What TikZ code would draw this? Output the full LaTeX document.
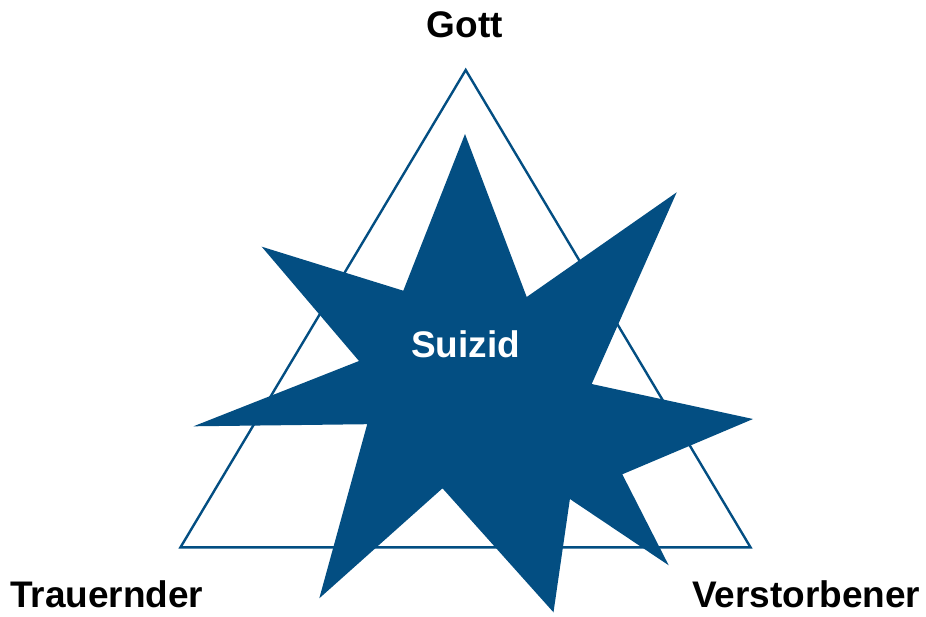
\documentclass[tikz,border=0pt]{standalone}
\usepackage{fontspec}
\setmainfont{Liberation Sans}
\usepackage{tikz}
\definecolor{myblue}{HTML}{034E82}

\begin{document}
\begin{tikzpicture}[x=1pt, y=-1pt,
      every node/.style={font=\fontsize{37}{40}\selectfont\bfseries, inner sep=0pt},
      tri/.style={draw=myblue, line width=2.4pt, line join=miter},
      star/.style={fill=myblue},
      lbl/.style={anchor=base, text=black, text depth=0pt},
      core/.style={anchor=base, text=white}
    ]
    \useasboundingbox (0,0) rectangle (926,616);

    % triangle
    \coordinate (G) at (465.7, 70);
    \coordinate (T) at (180.5, 547.3);
    \coordinate (V) at (750.5, 547.3);
    \draw[tri] (G) -- (T) -- (V) -- cycle;

    % star
    \fill[star] (465,134) -- (526.7,297) -- (676.7,192.3) -- (591.7,384)
      -- (753,419) -- (622.3,474.3) -- (668.7,565.3) -- (569.9,499)
      -- (553.5,612.3) -- (442.5,488.3) -- (319.3,598.3) -- (367.2,424.2)
      -- (193.5,426.3) -- (359,361) -- (261.7,246.7) -- (403.3,290.7) -- cycle;

    \node[core] (suizid) at (465.5, 357.7) {Suizid};

    \node[lbl] (gott)  at (465,   37)  {Gott};
    \node[lbl] (trau)  at (106.7, 607) {Trauernder};
    \node[lbl] (verst) at (806.2, 607) {Verstorbener};
  \end{tikzpicture}
\end{document}
